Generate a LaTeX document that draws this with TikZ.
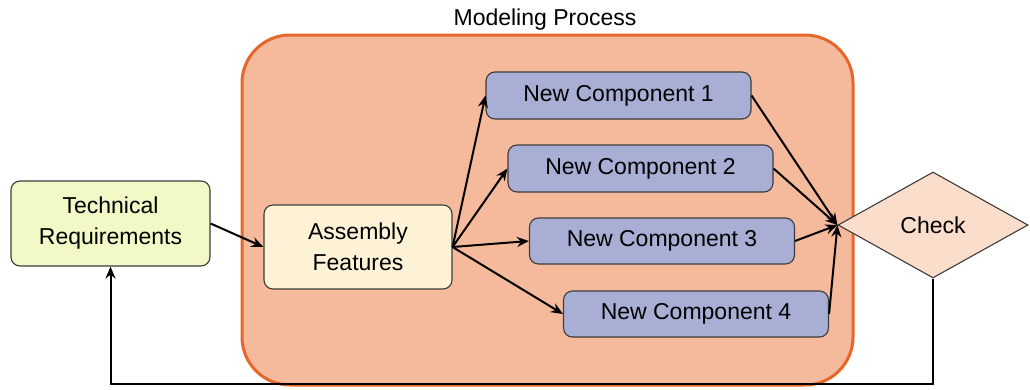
\documentclass[tikz,border=0pt]{standalone}
\usepackage{fontspec}
\setmainfont{Liberation Sans}
\usetikzlibrary{shapes.geometric,arrows.meta}
\definecolor{procfill}{RGB}{245,185,156}
\definecolor{procedge}{RGB}{230,102,44}
\definecolor{reqfill}{RGB}{243,249,198}
\definecolor{asmfill}{RGB}{254,242,214}
\definecolor{compfill}{RGB}{168,174,212}
\definecolor{checkfill}{RGB}{251,221,204}
\definecolor{boxedge}{RGB}{60,60,60}
\begin{document}
\begin{tikzpicture}[x=1pt,y=-1pt,
  every node/.style={font=\fontsize{23}{31}\selectfont, align=center, inner sep=0pt},
  roundbox/.style={draw=boxedge, line width=1.1pt, rounded corners=9pt},
  compbox/.style={roundbox, fill=compfill, minimum width=265pt, minimum height=47pt},
  link/.style={draw=black, line width=2pt, -{Stealth[length=12pt,width=10pt]}}]
  \useasboundingbox (0,0) rectangle (1030,389);

  % modeling process frame
  \node[draw=procedge, fill=procfill, line width=3pt, rounded corners=48pt,
        minimum width=611pt, minimum height=350pt] (proc) at (547.5,210) {};
  \node (proclabel) at (545,20) {Modeling Process};

  % input and assembly nodes
  \node[roundbox, fill=reqfill, minimum width=199pt, minimum height=85pt] (req) at (110.5,223.5) {Technical\\Requirements};
  \node[roundbox, fill=asmfill, minimum width=188pt, minimum height=84pt] (asm) at (358,247) {Assembly\\Features};

  % new components
  \node[compbox] (c1) at (618.5,95.5) {New Component 1};
  \node[compbox] (c2) at (640.5,168.5) {New Component 2};
  \node[compbox, minimum height=46pt] (c3) at (662,241) {New Component 3};
  \node[compbox, minimum height=46pt] (c4) at (696,314) {New Component 4};

  % decision
  \node[diamond, draw=boxedge, line width=1.1pt, fill=checkfill, aspect=1.8,
        minimum width=190pt, minimum height=106pt] (check) at (933,225) {Check};

  % connectors
  \draw[link] (req.east) -- (asm.west);
  \foreach \c in {c1,c2,c3,c4} {
    \draw[link] (asm.east) -- (\c.west);
    \draw[link] (\c.east) -- (check.west);
  }
  \coordinate (loop) at (0,384);
  \draw[link] (check.south) |- (loop -| req.south) -- (req.south);
\end{tikzpicture}
\end{document}
